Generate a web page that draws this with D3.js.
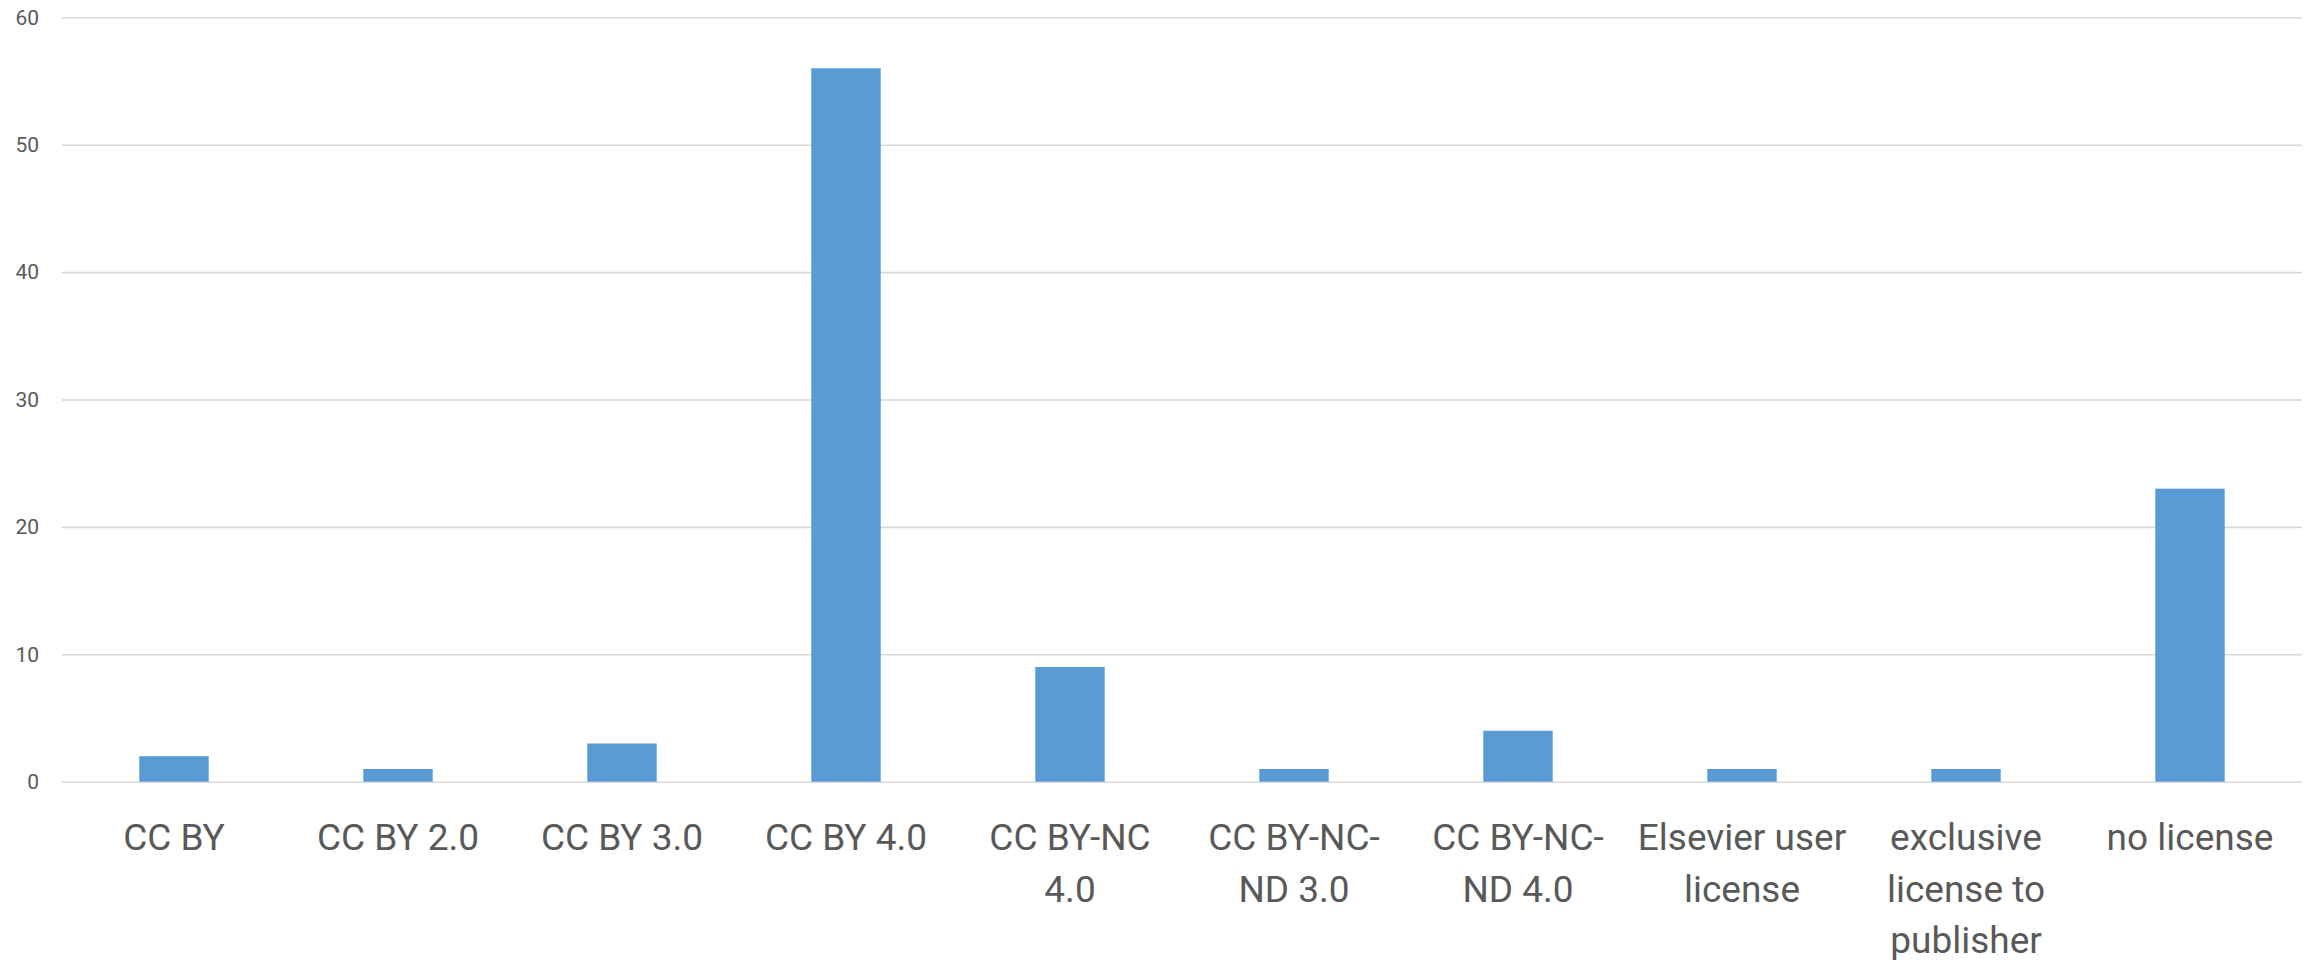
<!DOCTYPE html>
<html>
<head>
<meta charset="utf-8">
<script src="https://cdn.jsdelivr.net/npm/d3@7"></script>
<style>
    body{margin:0;background:#fff;}
    svg{display:block;}
</style>
</head>
<body>
<div id="chart"></div>
<script>

const categories=["CC BY","CC BY 2.0","CC BY 3.0","CC BY 4.0","CC BY-NC 4.0","CC BY-NC-ND 3.0","CC BY-NC-ND 4.0","Elsevier user license","exclusive license to publisher","no license"];
const counts=[2,1,3,56,9,1,4,1,1,23];
const tickLabels=[
    ["CC BY"],
    ["CC BY 2.0"],
    ["CC BY 3.0"],
    ["CC BY 4.0"],
    ["CC BY-NC","4.0"],
    ["CC BY-NC-","ND 3.0"],
    ["CC BY-NC-","ND 4.0"],
    ["Elsevier user","license"],
    ["exclusive","license to","publisher"],
    ["no license"]
];
const yTicks=[0,10,20,30,40,50,60];

const width=2313, height=960;
const plotLeft=62, plotRight=2302, plotTop=17.3, plotBottom=781.7;

const svg=d3.select("#chart")
    .append("svg")
    .attr("width",width)
    .attr("height",height);

const x=d3.scaleBand()
    .domain(categories)
    .range([plotLeft,plotRight])
    .paddingInner(0.69)
    .paddingOuter(0.345);

const y=d3.scaleLinear()
    .domain([0,60])
    .range([plotBottom,plotTop]);

// gridlines + y labels
const yAxis=svg.append("g")
    .attr("transform",`translate(${plotLeft},0)`)
    .call(d3.axisLeft(y).tickValues(yTicks).tickSize(-(plotRight-plotLeft)).tickPadding(23));

yAxis.select(".domain").remove();
yAxis.selectAll(".tick line")
    .attr("stroke","#d9d9d9")
    .attr("stroke-width",1.6);
yAxis.selectAll(".tick text")
    .attr("fill","#595959")
    .style("font-family","Roboto, 'Liberation Sans', sans-serif")
    .style("font-size","21px");

svg.selectAll(".bar")
    .data(counts)
    .enter()
    .append("rect")
    .attr("class","bar")
    .attr("x",(d,i)=>x(categories[i]))
    .attr("y",d=>y(d))
    .attr("width",x.bandwidth())
    .attr("height",d=>y(0)-y(d))
    .attr("fill","#5b9bd5");

// category labels
const xAxis=svg.append("g")
    .attr("transform",`translate(0,${plotBottom})`)
    .call(d3.axisBottom(x).tickSize(0));

xAxis.select(".domain").remove();
xAxis.selectAll(".tick text").each(function(d,i){

    const t=d3.select(this);
    t.text(null)
        .attr("y",0)
        .attr("dy",null)
        .attr("fill","#595959")
        .style("font-family","Roboto, 'Liberation Sans', sans-serif")
        .style("font-size","37px");

    tickLabels[i].forEach((line,j)=>{
        t.append("tspan")
            .attr("x",0)
            .attr("y",68.3+j*51.7)
            .text(line);
    });

});

</script>
</body>
</html>
